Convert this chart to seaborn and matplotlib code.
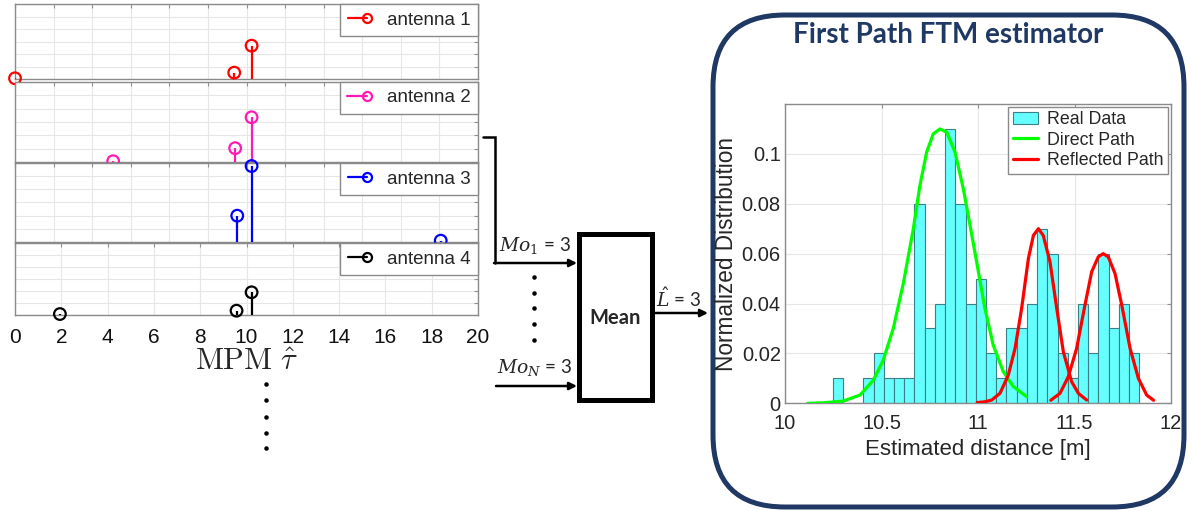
import numpy as np
import pandas as pd
import matplotlib
matplotlib.use('Agg')
import matplotlib.pyplot as plt
import seaborn as sns
from matplotlib.lines import Line2D
from matplotlib.patches import Patch, FancyBboxPatch, Rectangle
from matplotlib.legend_handler import HandlerBase
from matplotlib.ticker import FormatStrFormatter

# stem panels (MPM tau estimates per antenna), amplitudes in grid units (0..6)
antenna_labels = ['antenna 1', 'antenna 2', 'antenna 3', 'antenna 4']
antenna_colors = ['#FF0000', '#FF1AB3', '#0000FF', '#000000']
antenna_tau = [[0.0, 9.47, 10.22], [4.24, 9.51, 10.22], [9.6, 10.22, 18.39], [1.94, 9.57, 10.22]]
antenna_amp = [[0.08, 0.53, 2.68], [0.08, 1.05, 3.35], [1.99, 5.79, 0.08], [0.08, 0.36, 1.9]]

# histogram of estimated distance
hist_lo, hist_hi = 10.247, 11.836
hist_heights = [0.01, 0, 0, 0.01, 0.02, 0.01, 0.01, 0.01, 0.08, 0.03,
                0.04, 0.11, 0.08, 0.04, 0.05, 0.02, 0.01, 0.03, 0.03, 0.04,
                0.07, 0.06, 0.02, 0.01, 0.04, 0.02, 0.06, 0.03, 0.04, 0.02]

direct_x = [10.118, 10.2, 10.302, 10.389, 10.458, 10.509, 10.561, 10.613, 10.665, 10.699,
            10.734, 10.768, 10.803, 10.838, 10.881, 10.924, 10.959, 10.993, 11.036, 11.079,
            11.131, 11.183, 11.252]
direct_y = [0.0, 0.0002, 0.0009, 0.0033, 0.0093, 0.0173, 0.030, 0.048, 0.070, 0.0873,
            0.1007, 0.108, 0.110, 0.1087, 0.1007, 0.086, 0.0713, 0.0567, 0.038, 0.0233,
            0.0127, 0.0067, 0.0027]
refl1_x = [10.996, 11.035, 11.071, 11.114, 11.157, 11.192, 11.226, 11.261, 11.287, 11.313,
           11.338, 11.373, 11.408, 11.442, 11.485, 11.520, 11.563]
refl1_y = [0.0003, 0.0006, 0.0013, 0.004, 0.0113, 0.022, 0.038, 0.058, 0.0673, 0.070,
           0.0673, 0.0567, 0.038, 0.0207, 0.0087, 0.004, 0.0013]
refl2_x = [11.377, 11.425, 11.468, 11.511, 11.554, 11.589, 11.623, 11.649, 11.675, 11.710,
           11.745, 11.788, 11.831, 11.874, 11.910]
refl2_y = [0.0012, 0.004, 0.0107, 0.022, 0.0393, 0.0527, 0.0587, 0.060, 0.0587, 0.052,
           0.0393, 0.022, 0.010, 0.0033, 0.0012]

W, H = 1192, 511
sns.set_style('white')
plt.rcParams['font.family'] = ['Liberation Sans', 'DejaVu Sans']
plt.rcParams['axes.unicode_minus'] = False

fig = plt.figure(figsize=(W / 100, H / 100), dpi=100)


def px_axes(l, t, r, b):
    return fig.add_axes([l / W, 1 - b / H, (r - l) / W, (b - t) / H])


class StemHandler(HandlerBase):
    # matlab-like stem legend: line with the circle at its right end
    def create_artists(self, legend, orig_handle, xdescent, ydescent, width, height,
                       fontsize, trans):
        c = orig_handle.get_color()
        y = height / 2 - ydescent
        x0 = -xdescent
        xm = x0 + width - 4
        ln = Line2D([x0, xm], [y, y], color=c, lw=1.6, transform=trans)
        mk = Line2D([xm], [y], color=c, marker='o', mfc='none', mec=c, mew=1.6, ms=6.5,
                    linestyle='none', transform=trans)
        return [ln, mk]


# overlay for the block diagram, in pixel coordinates
ad = fig.add_axes([0, 0, 1, 1])
ad.set_xlim(0, W)
ad.set_ylim(H, 0)
ad.axis('off')
ad.patch.set_alpha(0)

navy = '#1F3864'
ad.add_patch(FancyBboxPatch((713, 15), 471, 492, boxstyle='round,pad=0,rounding_size=72',
                            facecolor='white', edgecolor=navy, lw=3.6))
ad.text(948, 35, 'First Path FTM estimator', family='Lato', weight='bold', fontsize=20,
        color=navy, ha='center', va='center')

k = 'black'
ad.plot([483, 495, 495], [137, 137, 263], color=k, lw=1.8, solid_joinstyle='miter')
arrow = dict(arrowstyle='-|>', color=k, lw=1.8, mutation_scale=11, shrinkA=0, shrinkB=0)
ad.annotate('', xy=(577, 263), xytext=(494, 263), arrowprops=arrow)
ad.annotate('', xy=(577, 386), xytext=(496, 386), arrowprops=arrow)
ad.annotate('', xy=(708, 313), xytext=(654, 313), arrowprops=arrow)
ad.add_patch(Rectangle((579, 234), 73, 166, facecolor='white', edgecolor=k, lw=3.6))
ad.text(615.5, 318, 'Mean', family='Lato', weight='bold', fontsize=14.5, ha='center', va='center')
ad.text(499, 246, r'$Mo_1$ = 3', family='Lato', fontsize=13.5, math_fontfamily='dejavuserif',
        ha='left', va='center')
ad.text(497, 367, r'$Mo_N$ = 3', family='Lato', fontsize=13.5, math_fontfamily='dejavuserif',
        ha='left', va='center')
ad.text(656, 298, r'$\hat{L}$ = 3', family='Lato', fontsize=13.5, math_fontfamily='dejavuserif',
        ha='left', va='center')
ad.scatter([534] * 5, [277, 293, 308, 324, 340], s=5, color=k)
ad.scatter([266] * 5, [384, 400, 417, 433, 448], s=5, color=k)

# stacked stem panels
panel_rows = [(4, 79.3), (81.7, 162.3), (163.3, 241.7), (243.3, 315)]
for i, (top, bot) in enumerate(panel_rows):
    ax = px_axes(15, top, 478, bot)
    c = antenna_colors[i]
    ax.vlines(antenna_tau[i], 0, antenna_amp[i], color=c, lw=1.6, zorder=3)
    sns.scatterplot(x=antenna_tau[i], y=antenna_amp[i], ax=ax, s=70, facecolor='none',
                    edgecolor=c, linewidth=1.6, clip_on=False, zorder=4)
    ax.set_xlim(0, 20)
    ax.set_ylim(0, 6)
    ax.set_yticks(range(7))
    ax.set_yticklabels([])
    if i < 3:
        ax.set_xticks(np.linspace(0, 20, 13))
        ax.set_xticklabels([])
    else:
        ax.set_xticks(range(0, 21, 2))
        ax.tick_params(axis='x', labelsize=15, pad=9, labelcolor='#111111')
        ax.set_xlabel(r'$\mathrm{MPM}\ \hat{\tau}$', fontsize=22, math_fontfamily='cm', labelpad=0)
    ax.grid(True, color='#E6E6E6', lw=0.8)
    ax.tick_params(direction='in', length=3, color='#909090', top=True, right=True)
    for s in ax.spines.values():
        s.set_color('#8A8A8A')
        s.set_linewidth(1.0)
    h = Line2D([0], [0], color=c)
    lg = ax.legend([h], [antenna_labels[i]], loc='upper right', fontsize=13.5, fancybox=False,
                   borderaxespad=0, handlelength=1.35, handletextpad=0.75, borderpad=0.4,
                   framealpha=1, edgecolor='#8A8A8A', handler_map={Line2D: StemHandler()})
    lg.get_frame().set_linewidth(1.0)
    lg.set_zorder(5)

# histogram panel
axh = px_axes(785, 104, 1171, 403.3)
edges = list(np.linspace(hist_lo, hist_hi, len(hist_heights) + 1))
hist_df = pd.DataFrame({'distance': [(a + b) / 2 for a, b in zip(edges[:-1], edges[1:])],
                        'prob': hist_heights})
sns.histplot(data=hist_df, x='distance', weights='prob', bins=edges, ax=axh, color='#66FFFF',
             edgecolor='#3C7F86', linewidth=0.8, alpha=1, zorder=2)
for xs, ys, col in [(direct_x, direct_y, '#00FF00'), (refl1_x, refl1_y, '#FF0000'),
                    (refl2_x, refl2_y, '#FF0000')]:
    sns.lineplot(x=xs, y=ys, ax=axh, color=col, lw=2.3, sort=False, estimator=None, zorder=3,
                 solid_joinstyle='round')
axh.set_xlim(10, 12)
axh.set_ylim(0, 0.12)
axh.set_xticks([10, 10.5, 11, 11.5, 12])
axh.set_yticks([0, 0.02, 0.04, 0.06, 0.08, 0.1])
axh.xaxis.set_major_formatter(FormatStrFormatter('%g'))
axh.yaxis.set_major_formatter(FormatStrFormatter('%g'))
axh.grid(True, color='#E6E6E6', lw=0.8, zorder=0)
axh.set_axisbelow(True)
axh.tick_params(direction='in', length=3, color='#909090', labelsize=14.5, labelcolor='#262626',
                top=True, right=True)
axh.tick_params(axis='x', pad=8)
axh.tick_params(axis='y', pad=3)
for s in axh.spines.values():
    s.set_color('#8A8A8A')
    s.set_linewidth(1.0)
axh.set_xlabel('Estimated distance [m]', fontsize=16, color='#262626', labelpad=4)
axh.set_ylabel('Normalized Distribution', fontsize=16.3, color='#262626', labelpad=3)
hh = [Patch(facecolor='#66FFFF', edgecolor='#3C7F86', lw=0.8),
      Line2D([0], [0], color='#00FF00', lw=2.3),
      Line2D([0], [0], color='#FF0000', lw=2.3)]
lg = axh.legend(hh, ['Real Data', 'Direct Path', 'Reflected Path'], loc='upper right',
                fontsize=12.8, fancybox=False, framealpha=1, edgecolor='#8A8A8A',
                borderaxespad=0.15, handlelength=1.45, labelspacing=0.2, borderpad=0.25,
                handletextpad=0.5)
lg.get_frame().set_linewidth(1.0)

fig.savefig('out.png', dpi=100)
